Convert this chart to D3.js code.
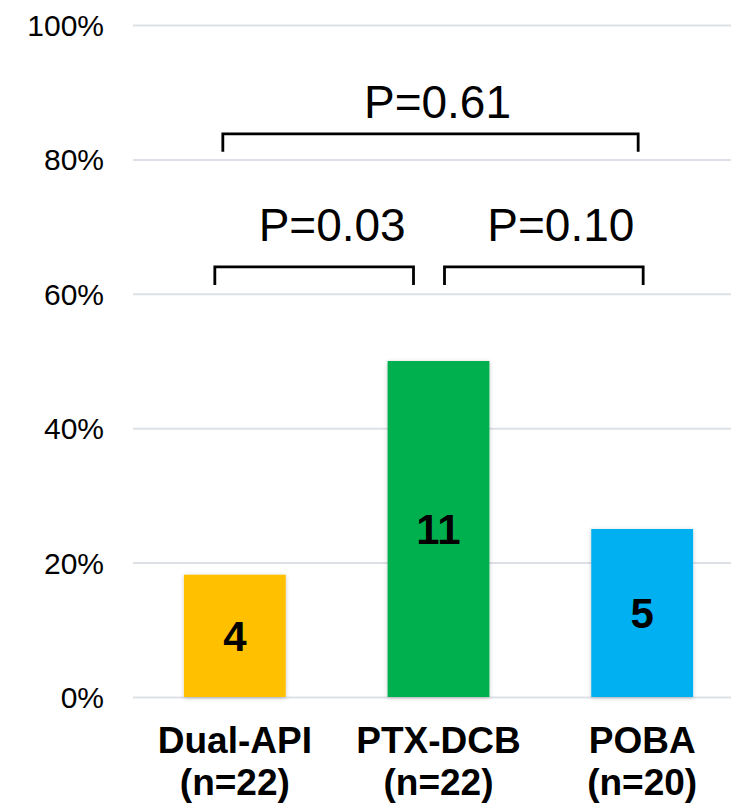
<!DOCTYPE html>
<html>
<head>
<meta charset="utf-8">
<script src="https://cdn.jsdelivr.net/npm/d3@7"></script>
<style>
  html, body { margin: 0; padding: 0; background: #ffffff; }
  svg { display: block; }
</style>
</head>
<body>
<svg id="chart" width="731" height="804"></svg>
<script>
// ---- data ----
const categories = ["Dual-API", "PTX-DCB", "POBA"];
const groupSizes = ["(n=22)", "(n=22)", "(n=20)"];
const percentValues = [18.2, 50, 25];
const barLabels = ["4", "11", "5"];
const barColors = ["#FFC000", "#00B050", "#00B0F0"];
const yTicks = [0, 20, 40, 60, 80, 100];
const comparisons = [
  { from: "Dual-API", to: "POBA", label: "P=0.61", level: 83.8 },
  { from: "Dual-API", to: "PTX-DCB", label: "P=0.03", level: 64.0 },
  { from: "PTX-DCB", to: "POBA", label: "P=0.10", level: 64.0 }
];

// ---- layout ----
const svg = d3.select("#chart");
const plotLeft = 133, plotRight = 744, plotTop = 25, plotBottom = 697;

const x = d3.scaleBand().domain(categories).range([plotLeft, plotRight]).paddingInner(0.5).paddingOuter(0.25);
const y = d3.scaleLinear().domain([0, 100]).range([plotBottom, plotTop]);

const defs = svg.append("defs");
const f = defs.append("filter").attr("id", "shadow").attr("x", "-20%").attr("y", "-10%").attr("width", "140%").attr("height", "120%");
f.append("feDropShadow").attr("dx", 0).attr("dy", 1).attr("stdDeviation", 2).attr("flood-color", "#000").attr("flood-opacity", 0.22);

// gridlines
const yAxis = d3.axisLeft(y).tickValues(yTicks).tickSize(0).tickPadding(0).tickFormat(d => d + "%");
const gAxis = svg.append("g").attr("transform", `translate(${plotLeft},0)`).call(yAxis);
gAxis.select(".domain").remove();
gAxis.selectAll(".tick line").attr("x2", 731 - plotLeft).attr("stroke", "#dde1e7").attr("stroke-width", 2);
gAxis.selectAll(".tick text")
  .attr("x", -29)
  .attr("dy", "0.35em")
  .attr("text-anchor", "end")
  .style("font-family", "Liberation Sans, Arial, sans-serif")
  .style("font-size", "30px")
  .attr("fill", "#000");

// bars
svg.append("g").selectAll("rect").data(categories).join("rect")
  .attr("x", d => x(d))
  .attr("width", x.bandwidth())
  .attr("y", (d, i) => y(percentValues[i]))
  .attr("height", (d, i) => y(0) - y(percentValues[i]))
  .attr("fill", (d, i) => barColors[i])
  .attr("filter", "url(#shadow)");

// bar value labels
svg.append("g").selectAll("text").data(categories).join("text")
  .attr("x", d => x(d) + x.bandwidth() / 2)
  .attr("y", (d, i) => (y(percentValues[i]) + y(0)) / 2)
  .attr("dy", "0.36em")
  .attr("text-anchor", "middle")
  .style("font-family", "Liberation Sans, Arial, sans-serif")
  .style("font-weight", "bold")
  .style("font-size", "42px")
  .text((d, i) => barLabels[i]);

// x category labels
const xl = svg.append("g").selectAll("text").data(categories).join("text")
  .attr("text-anchor", "middle")
  .style("font-family", "Liberation Sans, Arial, sans-serif")
  .style("font-weight", "bold")
  .style("font-size", "37px");
xl.append("tspan").attr("x", d => x(d) + x.bandwidth() / 2).attr("y", 753).text(d => d);
xl.append("tspan").attr("x", d => x(d) + x.bandwidth() / 2).attr("y", 795).text((d, i) => groupSizes[i]);

// comparison brackets
const center = d => x(d) + x.bandwidth() / 2;
const brackets = svg.append("g");
comparisons.forEach((c) => {
  const top = c.from === "Dual-API" && c.to === "POBA";
  let x1, x2;
  if (top) { x1 = center(c.from) - 12; x2 = center(c.to) - 4; }
  else if (c.from === "Dual-API") { x1 = center(c.from) - 20; x2 = center(c.to) - 25; }
  else { x1 = center(c.from) + 6; x2 = center(c.to) + 1; }
  const yl = y(c.level);
  const drop = 18;
  brackets.append("path")
    .attr("d", `M${x1},${yl + drop}V${yl}H${x2}V${yl + drop}`)
    .attr("fill", "none")
    .attr("stroke", "#000")
    .attr("stroke-width", 2.8);
  const tx = top ? (x1 + x2) / 2 + 7 : (c.from === "Dual-API" ? (x1 + x2) / 2 + 18 : (x1 + x2) / 2 + 17);
  brackets.append("text")
    .attr("x", tx)
    .attr("y", yl - (top ? 16 : 26))
    .attr("text-anchor", "middle")
    .style("font-family", "Liberation Sans, Arial, sans-serif")
    .style("font-size", "46px")
    .text(c.label);
});
</script>
</body>
</html>
